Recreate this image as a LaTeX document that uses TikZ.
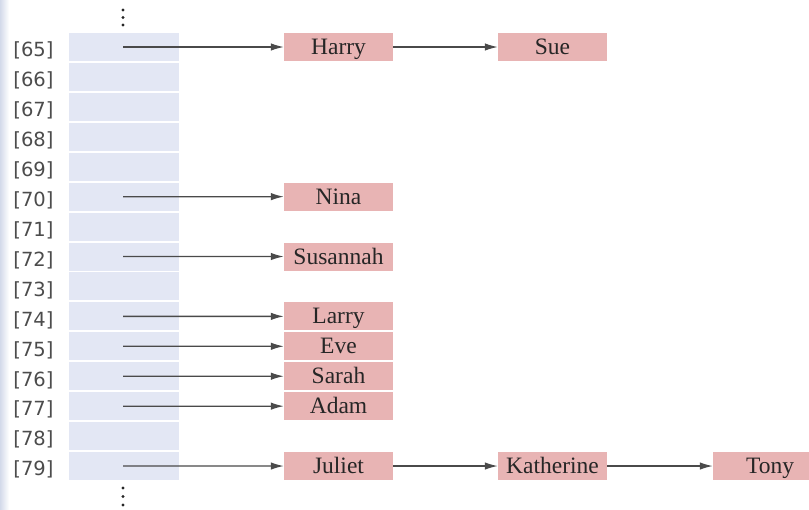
\documentclass[tikz,border=0pt]{standalone}
\usepackage{fontspec}
\setmainfont{Liberation Serif}
\newfontfamily\labfont{DejaVu Sans}
\usetikzlibrary{arrows.meta}
\definecolor{cellblue}{HTML}{E3E7F4}
\definecolor{namepink}{HTML}{E8B4B4}
\definecolor{arrowgray}{HTML}{4A4A4A}
\definecolor{stripblue}{HTML}{D3DAEA}
\begin{document}
\begin{tikzpicture}[x=1pt,y=-1pt,
 cell/.style={fill=cellblue, minimum width=110pt, minimum height=28pt, inner sep=0pt},
 namebox/.style={fill=namepink, minimum width=109pt, minimum height=28pt, inner sep=0pt,
   text height=18pt, text depth=3pt,
   font=\fontsize{23.5}{23.5}\selectfont, text=black!85},
 idx/.style={font=\labfont\fontsize{19.5}{19.5}\selectfont, text=black!70,
   inner sep=0pt, anchor=base},
 link/.style={draw=arrowgray, line width=1.3pt, -{Latex[length=13pt,width=7.5pt]}},
 dot/.style={fill=black!85}
]
\useasboundingbox (0,0) rectangle (809,509);
\shade[left color=stripblue, right color=white] (0,0) rectangle (9,509);
\foreach \n [count=\i from 0] in {65,...,79} {
  \node[cell] (c\n) at (124, 47+29.93*\i) {};
  \node[idx] (l\n) at (33.5, 56.8+29.93*\i) {[\n]};
  \coordinate (p\n) at (123, 47+29.93*\i);
}
% ellipses
\fill[dot] (123,10) circle (1.7pt);
\fill[dot] (123,17.5) circle (1.7pt);
\fill[dot] (123,25) circle (1.7pt);
\fill[dot] (123,488) circle (1.7pt);
\fill[dot] (123,496.5) circle (1.7pt);
\fill[dot] (123,505) circle (1.7pt);
% name boxes
\node[namebox] (harry) at (338.5, 47) {Harry};
\node[namebox] (sue) at (552.5, 47) {Sue};
\node[namebox] (nina) at (338.5, 196.65) {Nina};
\node[namebox] (susannah) at (338.5, 256.51) {Susannah};
\node[namebox] (larry) at (338.5, 316.37) {Larry};
\node[namebox] (eve) at (338.5, 346.3) {Eve};
\node[namebox] (sarah) at (338.5, 376.23) {Sarah};
\node[namebox] (adam) at (338.5, 406.16) {Adam};
\node[namebox] (juliet) at (338.5, 466.02) {Juliet};
\node[namebox] (katherine) at (552.5, 466.02) {Katherine};
\node[namebox] (tony) at (767.5, 466.02) {\hspace*{5pt}Tony};
% links
\draw[link] (p65) -- (harry);
\draw[link] (harry) -- (sue);
\draw[link] (p70) -- (nina);
\draw[link] (p72) -- (susannah);
\draw[link] (p74) -- (larry);
\draw[link] (p75) -- (eve);
\draw[link] (p76) -- (sarah);
\draw[link] (p77) -- (adam);
\draw[link] (p79) -- (juliet);
\draw[link] (juliet) -- (katherine);
\draw[link] (katherine) -- (tony);
\end{tikzpicture}
\end{document}
